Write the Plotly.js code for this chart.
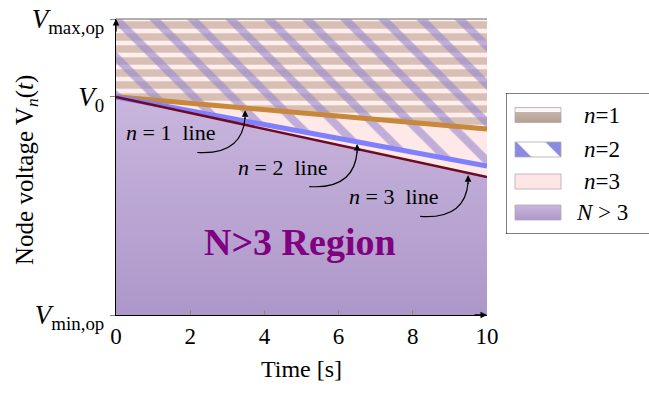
<!DOCTYPE html>
<html>
<head>
<meta charset="utf-8">
<script src="https://cdn.plot.ly/plotly-3.0.1.min.js"></script>
<style>html,body{margin:0;padding:0;background:#fff;}#chart{width:649px;height:395px;}</style>
</head>
<body>
<div id="chart"></div>
<script>
// ---- data ----
const time = [0, 10];
const vMin = 0, vMax = 1, v0 = 0.737;
const line1 = [v0, 0.628];   // n=1 boundary
const line2 = [v0, 0.503];   // n=2 boundary
const line3 = [v0, 0.466];   // n=3 boundary
const xTicks = [0, 2, 4, 6, 8, 10];
const yTickVals = [vMin, v0, vMax];
const yTickText = ['<i>V</i><sub>min,op</sub>', '<i>V</i><sub>0</sub>', '<i>V</i><sub>max,op</sub>'];
const regionNames = ['<i>n</i>=1', '<i>n</i>=2', '<i>n</i>=3', '<i>N</i> > 3'];
const lineLabels = ['<i>n</i> = 1  line', '<i>n</i> = 2  line', '<i>n</i> = 3  line'];
const labelX = [1.48, 4.50, 7.49];
const labelY = [0.615, 0.500, 0.399];
const arrowTipX = [3.48, 6.5, 9.49];

// ---- layout constants (legend box drawn on a helper axis measured in pixels) ----
const LEG_W = 143, LEG_H = 141;
const legRows = [119, 84.5, 52.5, 21.5];   // row centres (px from legend bottom)
const swX0 = 9, swX1 = 55, swH = 7.5, legTextX = 96;

function above(line) { return { x: time.concat([time[1], time[0]]), y: line.concat([vMax, vMax]) }; }
function below(line) { return { x: time.concat([time[1], time[0]]), y: line.concat([vMin, vMin]) }; }
function lineAt(line, x) { return line[0] + (line[1] - line[0]) * (x - time[0]) / (time[1] - time[0]); }

const font = 'Liberation Serif, Times New Roman, serif';
const pN3 = below(line3), p3 = above(line3), p1 = above(line1), p2 = above(line2);

const styleN3 = { fillcolor: '#bba6d3', fillgradient: { type: 'vertical', colorscale: [[0, '#ad97ca'], [1, '#c9b6dd']] } };
const traces = [
  Object.assign({ x: pN3.x, y: pN3.y, fill: 'toself', mode: 'none', showlegend: false }, styleN3),
  { x: p3.x, y: p3.y, fill: 'toself', mode: 'none', showlegend: false, fillcolor: '#ffe8e8' },
  { x: p1.x, y: p1.y, fill: 'toself', mode: 'none', showlegend: false, fillcolor: '#ffeeec',
    fillpattern: { shape: '-', fgcolor: '#d8bfb6', bgcolor: '#ffeeec', size: 12, solidity: 0.62 } },
  { x: p2.x, y: p2.y, fill: 'toself', mode: 'none', showlegend: false, fillcolor: 'rgba(0,0,0,0)',
    fillpattern: { shape: '\\', fgcolor: 'rgba(150,135,205,0.6)', bgcolor: 'rgba(255,255,255,0)', size: 27, solidity: 0.3 } },
  { x: time, y: line1, mode: 'lines', line: { color: '#c8883c', width: 5 }, showlegend: false },
  { x: time, y: line2, mode: 'lines', line: { color: '#8080ff', width: 5 }, showlegend: false },
  { x: time, y: line3, mode: 'lines', line: { color: '#6e0a22', width: 2.5 }, showlegend: false }
];

// ---- custom legend swatches ----
const swatchStyles = [
  { fillcolor: '#bcab9d', fillgradient: { type: 'vertical', colorscale: [[0, '#b3a191'], [0.68, '#c4b5a8'], [0.72, '#ffffff'], [1, '#f2eeeb']] } },
  { fillcolor: '#ffffff', fillpattern: { shape: '\\', fgcolor: '#8a8ae0', bgcolor: '#ffffff', size: 34, solidity: 0.4 } },
  { fillcolor: '#ffe6e6' },
  styleN3
];
swatchStyles.forEach((st, i) => {
  const cy = legRows[i];
  traces.push(Object.assign({
    x: [swX0, swX1, swX1, swX0, swX0], y: [cy - swH, cy - swH, cy + swH, cy + swH, cy - swH],
    xaxis: 'x2', yaxis: 'y2', fill: 'toself', mode: 'lines', line: { color: '#b0a8b0', width: 0.8 },
    showlegend: false, hoverinfo: 'skip'
  }, st));
});

const lines = [line1, line2, line3];
const shapes = [
  { type: 'line', xref: 'x domain', yref: 'y domain', x0: 0, x1: 1, y0: 1, y1: 1, line: { color: '#999', width: 1.5 }, layer: 'above' },
  // legend frame (right edge runs off the page)
  { type: 'path', xref: 'x2', yref: 'y2', path: `M${LEG_W + 20},${LEG_H} L0,${LEG_H} L0,0 L${LEG_W + 20},0`, line: { color: '#000', width: 1 } }
];
const annotations = [];
lineLabels.forEach((t, i) => {
  const lx = labelX[i], ly = labelY[i];
  const tx = arrowTipX[i];
  const ty = lineAt(lines[i], tx) - 0.007;
  const sx = lx + 0.71, sy = ly - 0.066;
  shapes.push({ type: 'path', xref: 'x', yref: 'y',
    path: `M${sx},${sy} Q${tx - 0.08},${sy - 0.01} ${tx},${ty - 0.025}`,
    line: { color: '#000', width: 1.2 }, layer: 'above' });
  annotations.push({ x: lx, y: ly, text: t, showarrow: false, font: { family: font, size: 22, color: '#000' } });
  annotations.push({ x: tx, y: ty, ax: tx, ay: ty - 0.035, axref: 'x', ayref: 'y', text: '', showarrow: true,
    arrowhead: 2, arrowsize: 1.1, arrowwidth: 1.2, arrowcolor: '#000' });
});
annotations.push({ x: 4.96, y: 0.247, text: '<b>N>3 Region</b>', showarrow: false,
  font: { family: font, size: 38, color: '#800080' } });
// axis arrows
annotations.push({ x: 10, y: vMin, ax: -14, ay: 0, xref: 'x', yref: 'y', text: '', showarrow: true, arrowhead: 2, arrowsize: 1, arrowwidth: 1.3, arrowcolor: '#000' });
annotations.push({ x: 0, y: vMax, ax: 0, ay: 14, xref: 'x', yref: 'y', text: '', showarrow: true, arrowhead: 2, arrowsize: 1, arrowwidth: 1.3, arrowcolor: '#000' });
// y-axis title (placed as rotated text)
annotations.push({ xref: 'paper', yref: 'y domain', x: (27 - 116) / 533, y: 0.49, xanchor: 'center', yanchor: 'middle',
  textangle: -90, showarrow: false, text: 'Node voltage V<sub><i>n</i></sub>(<i>t</i>)', font: { family: font, size: 25, color: '#000' } });
// legend texts
regionNames.forEach((t, i) => {
  annotations.push({ x: legTextX, y: legRows[i], xref: 'x2', yref: 'y2', text: t, showarrow: false,
    font: { family: font, size: 23, color: '#000' } });
});

const layout = {
  width: 649, height: 395,
  margin: { l: 116, r: 0, t: 19, b: 80 },
  paper_bgcolor: '#fff', plot_bgcolor: 'rgba(0,0,0,0)',
  font: { family: font, size: 20, color: '#000' },
  showlegend: false,
  xaxis: { domain: [0, 371 / 533], range: [0, 10], tickvals: xTicks, ticks: 'inside', ticklen: 5, tickcolor: '#888',
    showgrid: false, zeroline: false, showline: true, linecolor: '#000', linewidth: 1.3,
    tickfont: { family: font, size: 23 },
    title: { text: 'Time [s]', font: { family: font, size: 24 }, standoff: 12 } },
  yaxis: { range: [vMin, vMax], tickvals: yTickVals, ticktext: yTickText, ticks: 'outside', ticklen: 5, tickcolor: '#888',
    showgrid: false, zeroline: false, showline: true, linecolor: '#000', linewidth: 1.3,
    tickfont: { family: font, size: 27 } },
  xaxis2: { domain: [390 / 533, 1], range: [0, LEG_W], visible: false, fixedrange: true, anchor: 'y2' },
  yaxis2: { domain: [81 / 296, 222 / 296], range: [0, LEG_H], visible: false, fixedrange: true, anchor: 'x2' },
  shapes: shapes, annotations: annotations
};
Plotly.newPlot('chart', traces, layout, { displayModeBar: false, staticPlot: true });
</script>
</body>
</html>
